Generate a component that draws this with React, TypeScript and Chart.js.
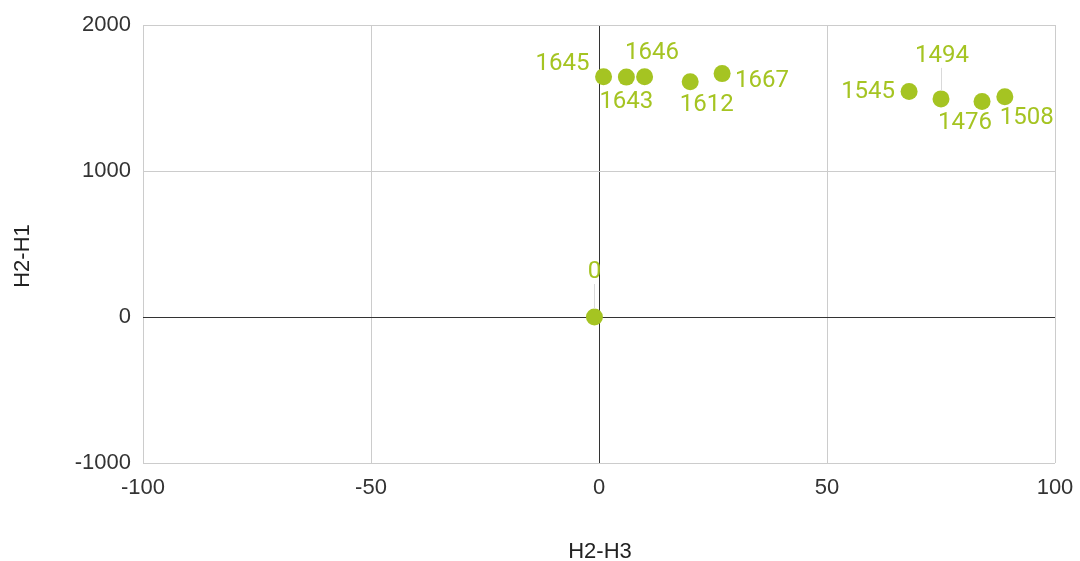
import React, { useEffect, useRef } from "react";
import { Chart, registerables } from "chart.js";

Chart.register(...registerables);

// ---- data ----
const xValues = [-1, 1, 6, 10, 20, 27, 68, 75, 84, 89];
const yValues = [0, 1645, 1643, 1646, 1612, 1667, 1545, 1494, 1476, 1508];
const pointLabels = ["0", "1645", "1643", "1646", "1612", "1667", "1545", "1494", "1476", "1508"];
const xTicks = [-100, -50, 0, 50, 100];
const yTicks = [-1000, 0, 1000, 2000];
const xTitle = "H2-H3";
const yTitle = "H2-H1";

// ---- label placement (style) ----
// [dx, dy, align, stem]
const labelPlacement: [number, number, CanvasTextAlign, boolean][] = [
  [0, -45, "center", true],
  [-14, -13, "right", false],
  [0, 25, "center", false],
  [7.5, -24, "center", false],
  [16.5, 23, "center", false],
  [13, 7, "left", false],
  [-14, 1, "right", false],
  [1, -43, "center", true],
  [-17, 21, "center", false],
  [22, 21, "center", false],
];

const GREEN = "#a5c422";
const TICK_FONT = { family: "'Liberation Sans', Arial, sans-serif", size: 22 };

const labelPlugin = {
  id: "pointLabels",
  afterDatasetsDraw(chart: any) {
    const ctx = chart.ctx as CanvasRenderingContext2D;
    const meta = chart.getDatasetMeta(0);
    ctx.save();
    ctx.font = "24px Roboto, sans-serif";
    ctx.textBaseline = "middle";
    meta.data.forEach((el: any, i: number) => {
      const [dx, dy, align, stem] = labelPlacement[i];
      const lx = el.x + dx;
      const ly = el.y + dy;
      if (stem) {
        ctx.strokeStyle = "#d9d9d9";
        ctx.lineWidth = 1;
        ctx.beginPath();
        ctx.moveTo(Math.round(el.x) + 0.5, ly + 12);
        ctx.lineTo(Math.round(el.x) + 0.5, el.y - 8);
        ctx.stroke();
      }
      ctx.fillStyle = GREEN;
      ctx.textAlign = align;
      ctx.fillText(pointLabels[i], lx, ly);
    });
    ctx.restore();
  },
  afterDraw(chart: any) {
    const ctx = chart.ctx as CanvasRenderingContext2D;
    ctx.save();
    ctx.font = "22px 'Liberation Sans', Arial, sans-serif";
    ctx.fillStyle = "#222";
    ctx.textAlign = "center";
    ctx.textBaseline = "middle";
    ctx.fillText(xTitle, 600, 552);
    ctx.translate(22.5, 256);
    ctx.rotate(-Math.PI / 2);
    ctx.fillText(yTitle, 0, 0);
    ctx.restore();
  },
};

export default function App() {
  const ref = useRef<HTMLCanvasElement | null>(null);
  useEffect(() => {
    if (!ref.current) return;
    const gridColor = (c: any) => (c.tick && c.tick.value === 0 ? "#333333" : "#cccccc");
    const plain = (v: any) => String(v);
    const chart = new Chart(ref.current, {
      type: "scatter",
      data: {
        datasets: [
          {
            data: xValues.map((x, i) => ({ x, y: yValues[i] })),
            backgroundColor: GREEN,
            borderWidth: 0,
            pointRadius: 8.5,
            pointHoverRadius: 8.5,
          },
        ],
      },
      options: {
        animation: false,
        responsive: true,
        maintainAspectRatio: false,
        layout: { padding: { top: 25, right: 25, left: 0, bottom: 0 } },
        plugins: { legend: { display: false }, tooltip: { enabled: false } },
        events: [],
        scales: {
          x: {
            type: "linear",
            min: xTicks[0],
            max: xTicks[xTicks.length - 1],
            afterBuildTicks: (s: any) => {
              s.ticks = xTicks.map((v) => ({ value: v }));
            },
            afterFit: (s: any) => {
              s.height = 98;
              s.paddingLeft = 0;
              s.paddingRight = 0;
            },
            ticks: { font: TICK_FONT, color: "#333", padding: 12, maxRotation: 0, callback: plain },
            grid: { color: gridColor, drawTicks: false, lineWidth: 1 },
            border: { display: false },
          },
          y: {
            type: "linear",
            min: yTicks[0],
            max: yTicks[yTicks.length - 1],
            afterBuildTicks: (s: any) => {
              s.ticks = yTicks.map((v) => ({ value: v }));
            },
            afterFit: (s: any) => {
              s.width = 143;
              s.paddingTop = 0;
              s.paddingBottom = 0;
            },
            ticks: { font: TICK_FONT, color: "#333", padding: 12, callback: plain },
            grid: { color: gridColor, drawTicks: false, lineWidth: 1 },
            border: { display: false },
          },
        },
      },
      plugins: [labelPlugin],
    } as any);
    return () => chart.destroy();
  }, []);
  return (
    <div style={{ position: "fixed", left: 0, top: 0, width: 1080, height: 561, background: "#fff" }}>
      <canvas ref={ref} />
    </div>
  );
}
